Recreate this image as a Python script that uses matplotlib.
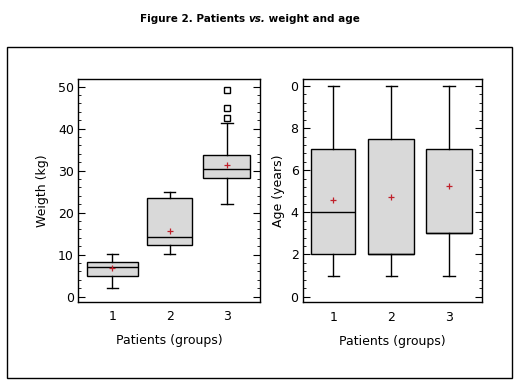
import matplotlib
matplotlib.use("Agg")
import matplotlib.pyplot as plt
from matplotlib.patches import Rectangle
from matplotlib.ticker import MultipleLocator

# data (five-number summaries + means)
groups = ["1", "2", "3"]

weight_low = [2.1, 10.1, 22.1]
weight_q1 = [4.8, 12.2, 28.3]
weight_med = [7.0, 14.1, 30.3]
weight_q3 = [8.3, 23.4, 33.6]
weight_high = [10.1, 24.9, 41.3]
weight_mean = [6.8, 15.6, 31.3]
weight_fliers = [[], [], [42.4, 44.8, 49.1]]

age_low = [1.0, 1.0, 1.0]
age_q1 = [2.0, 2.0, 3.0]
age_med = [4.0, 2.0, 3.0]
age_q3 = [7.0, 7.5, 7.0]
age_high = [10.0, 10.0, 10.0]
age_mean = [4.6, 4.75, 5.27]

W, H = 525, 389
fig = plt.figure(figsize=(W / 100, H / 100), dpi=100)
plt.rcParams["font.family"] = ["DejaVu Sans"]


def stats(lo, q1, med, q3, hi, mean, fliers=None):
    out = []
    for i in range(len(lo)):
        out.append(dict(whislo=lo[i], q1=q1[i], med=med[i], q3=q3[i], whishi=hi[i],
                        mean=mean[i], fliers=fliers[i] if fliers else [], label=groups[i]))
    return out


def px_axes(x0, y0, x1, y1):
    return fig.add_axes([x0 / W, 1 - y1 / H, (x1 - x0) / W, (y1 - y0) / H])


def draw(ax, st, widths):
    ax.bxp(st, positions=[1, 2, 3], widths=widths, showmeans=True, patch_artist=True,
           capwidths=0.2,
           boxprops=dict(facecolor="#d9d9d9", edgecolor="black", linewidth=1),
           medianprops=dict(color="black", linewidth=1),
           whiskerprops=dict(color="black", linewidth=1),
           capprops=dict(color="black", linewidth=1),
           meanprops=dict(marker="+", markeredgecolor="#c0202a", markersize=5, markeredgewidth=0.9),
           flierprops=dict(marker="s", markerfacecolor="white", markeredgecolor="black",
                           markersize=4, markeredgewidth=1))
    ax.tick_params(axis="y", which="both", direction="in", left=True, right=True, labelsize=9,
                   pad=3)
    ax.tick_params(axis="y", which="major", length=5)
    ax.tick_params(axis="y", which="minor", length=2.5)
    ax.tick_params(axis="x", length=0, labelsize=9, pad=6)
    for s in ax.spines.values():
        s.set_linewidth(1)
    ax.set_xlabel("Patients (groups)", fontsize=9, labelpad=8)


# left panel: weight
ax1 = px_axes(78, 79, 260, 302)
draw(ax1, stats(weight_low, weight_q1, weight_med, weight_q3, weight_high, weight_mean,
                weight_fliers), [0.9, 0.8, 0.82])
ax1.set_xlim(0.4, 3.58)
ax1.set_ylim(-1.3, 51.8)
ax1.yaxis.set_major_locator(MultipleLocator(10))
ax1.yaxis.set_minor_locator(MultipleLocator(2))
ax1.set_ylabel("Weigth (kg)", fontsize=9, labelpad=6)

# right panel: age
ax2 = px_axes(302.7, 79.3, 482.3, 302.3)
draw(ax2, stats(age_low, age_q1, age_med, age_q3, age_high, age_mean), [0.76, 0.79, 0.8])
ax2.set_xlim(0.47, 3.57)
ax2.set_ylim(-0.27, 10.32)
ax2.set_yticks([0, 2, 4, 6, 8, 10])
ax2.set_yticklabels(["0", "2", "4", "6", "8", "0"])
ax2.yaxis.set_minor_locator(MultipleLocator(0.4))
ax2.set_ylabel("Age (years)", fontsize=9, labelpad=4)

# outer frame
fig.patches.append(Rectangle((7 / W, 1 - 378 / H), 505 / W, 331 / H, transform=fig.transFigure,
                             fill=False, edgecolor="black", linewidth=1))

# title with italic "vs."
parts = [("Figure 2. Patients ", "normal"), ("vs.", "italic"), (" weight and age", "normal")]
fig.canvas.draw()
r = fig.canvas.get_renderer()
texts = []
x = 0
for s, style in parts:
    t = fig.text(x, 1 - 19 / H, s, fontsize=7.5, fontweight="bold", style=style, va="center")
    texts.append(t)
    x += t.get_window_extent(r).width / W
left = 250 / W - x / 2
x = left
for t in texts:
    t.set_x(x)
    x += t.get_window_extent(r).width / W

fig.savefig("out.png", dpi=100)
